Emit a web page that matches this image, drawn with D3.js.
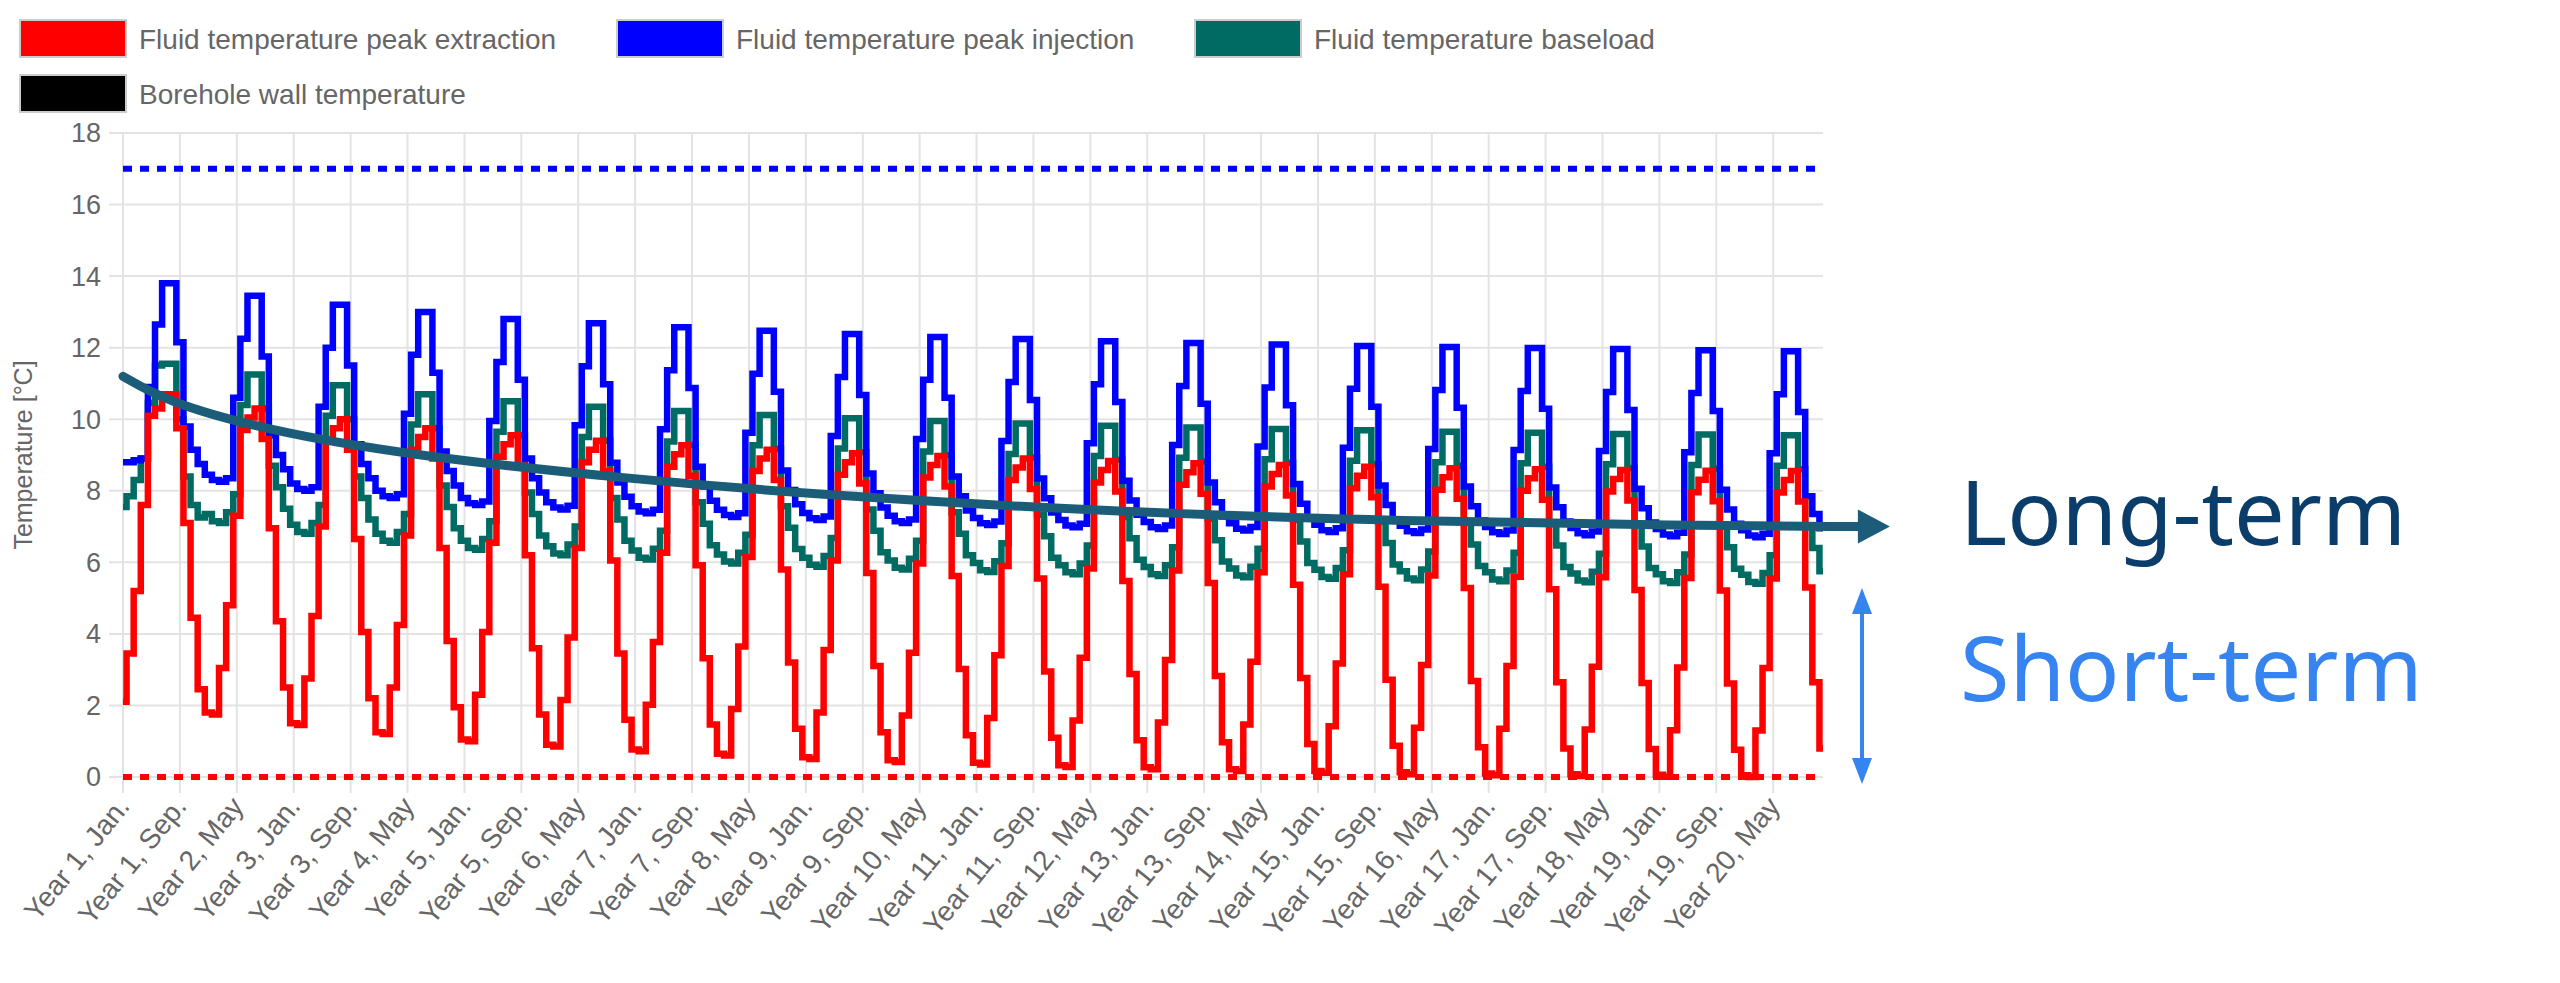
<!DOCTYPE html>
<html>
<head>
<meta charset="utf-8">
<script src="https://cdn.jsdelivr.net/npm/d3@7"></script>
<style>
  body { margin: 0; background: #fff; }
  svg { display: block; font-family: "Liberation Sans", Arial, sans-serif; }
</style>
</head>
<body>
<svg id="chart" width="2560" height="983"></svg>
<script>
// monthly values, one row per year (Jan..Dec)
const peakExtraction = [
  [2.1,3.45,5.2,7.6,10.1,10.3,10.7,10.7,9.75,7.1,4.45,2.45],
  [1.8,1.75,3.05,4.8,7.3,9.7,10.05,10.3,9.45,6.95,4.35,2.5],
  [1.5,1.45,2.75,4.5,7.0,9.4,9.75,10.0,9.15,6.65,4.05,2.2],
  [1.25,1.2,2.5,4.25,6.75,9.15,9.5,9.75,8.9,6.4,3.8,1.95],
  [1.05,1.0,2.3,4.05,6.55,8.95,9.3,9.55,8.7,6.2,3.6,1.75],
  [0.9,0.85,2.15,3.9,6.4,8.8,9.15,9.4,8.55,6.05,3.45,1.6],
  [0.77,0.72,2.02,3.77,6.27,8.67,9.02,9.27,8.42,5.92,3.32,1.47],
  [0.65,0.6,1.9,3.65,6.15,8.55,8.9,9.15,8.3,5.8,3.2,1.35],
  [0.55,0.5,1.8,3.55,6.05,8.45,8.8,9.05,8.2,5.7,3.1,1.25],
  [0.47,0.42,1.72,3.47,5.97,8.37,8.72,8.97,8.12,5.62,3.02,1.17],
  [0.4,0.35,1.65,3.4,5.9,8.3,8.65,8.9,8.05,5.55,2.95,1.1],
  [0.33,0.28,1.58,3.33,5.83,8.23,8.58,8.83,7.98,5.48,2.88,1.03],
  [0.27,0.22,1.52,3.27,5.77,8.17,8.52,8.77,7.92,5.42,2.82,0.97],
  [0.22,0.17,1.47,3.22,5.72,8.12,8.47,8.72,7.87,5.37,2.77,0.92],
  [0.17,0.12,1.42,3.17,5.67,8.07,8.42,8.67,7.82,5.32,2.72,0.87],
  [0.13,0.08,1.38,3.13,5.63,8.03,8.38,8.63,7.78,5.28,2.68,0.83],
  [0.1,0.05,1.35,3.1,5.6,8.0,8.35,8.6,7.75,5.25,2.65,0.8],
  [0.08,0.03,1.33,3.08,5.58,7.98,8.33,8.58,7.73,5.23,2.63,0.78],
  [0.06,0.01,1.31,3.06,5.56,7.96,8.31,8.56,7.71,5.21,2.61,0.76],
  [0.05,0,1.3,3.05,5.55,7.95,8.3,8.55,7.7,5.3,2.65,0.8]
];
const peakInjection = [
  [8.8,8.8,8.85,8.9,10.9,12.65,13.8,13.8,12.15,9.8,9.15,8.75],
  [8.45,8.3,8.25,8.35,10.6,12.25,13.45,13.45,11.75,9.55,9.0,8.6],
  [8.2,8.05,8.0,8.1,10.35,12.0,13.2,13.2,11.5,9.3,8.75,8.35],
  [8.0,7.85,7.8,7.9,10.15,11.8,13.0,13.0,11.3,9.1,8.55,8.15],
  [7.8,7.65,7.6,7.7,9.95,11.6,12.8,12.8,11.1,8.9,8.35,7.95],
  [7.68,7.53,7.48,7.58,9.83,11.48,12.68,12.68,10.98,8.78,8.23,7.83],
  [7.57,7.42,7.37,7.47,9.72,11.37,12.57,12.57,10.87,8.67,8.12,7.72],
  [7.47,7.32,7.27,7.37,9.62,11.27,12.47,12.47,10.77,8.57,8.02,7.62],
  [7.38,7.23,7.18,7.28,9.53,11.18,12.38,12.38,10.68,8.48,7.93,7.53],
  [7.3,7.15,7.1,7.2,9.45,11.1,12.3,12.3,10.6,8.4,7.85,7.45],
  [7.24,7.09,7.04,7.14,9.39,11.04,12.24,12.24,10.54,8.34,7.79,7.39],
  [7.18,7.03,6.98,7.08,9.33,10.98,12.18,12.18,10.48,8.28,7.73,7.33],
  [7.13,6.98,6.93,7.03,9.28,10.93,12.13,12.13,10.43,8.23,7.68,7.28],
  [7.09,6.94,6.89,6.99,9.24,10.89,12.09,12.09,10.39,8.19,7.64,7.24],
  [7.05,6.9,6.85,6.95,9.2,10.85,12.05,12.05,10.35,8.15,7.6,7.2],
  [7.02,6.87,6.82,6.92,9.17,10.82,12.02,12.02,10.32,8.12,7.57,7.17],
  [6.99,6.84,6.79,6.89,9.14,10.79,11.99,11.99,10.29,8.09,7.54,7.14],
  [6.96,6.81,6.76,6.86,9.11,10.76,11.96,11.96,10.26,8.06,7.51,7.11],
  [6.93,6.78,6.73,6.83,9.08,10.73,11.93,11.93,10.23,8.03,7.48,7.08],
  [6.9,6.75,6.7,6.8,9.05,10.7,11.9,11.9,10.2,7.85,7.35,6.95]
];
const baseload = [
  [7.55,7.85,8.3,8.9,10.45,11.5,11.55,11.55,10.0,8.4,7.6,7.25],
  [7.35,7.15,7.1,7.4,7.9,10.4,11.25,11.25,10.3,8.7,8.1,7.5],
  [7.05,6.85,6.8,7.1,7.6,10.1,10.95,10.95,10.0,8.4,7.8,7.2],
  [6.8,6.6,6.55,6.85,7.35,9.85,10.7,10.7,9.75,8.15,7.55,6.95],
  [6.6,6.4,6.35,6.65,7.15,9.65,10.5,10.5,9.55,7.95,7.35,6.75],
  [6.45,6.25,6.2,6.5,7.0,9.5,10.35,10.35,9.4,7.8,7.2,6.6],
  [6.33,6.13,6.08,6.38,6.88,9.38,10.23,10.23,9.28,7.68,7.08,6.48],
  [6.22,6.02,5.97,6.27,6.77,9.27,10.12,10.12,9.17,7.57,6.97,6.37],
  [6.13,5.93,5.88,6.18,6.68,9.18,10.03,10.03,9.08,7.48,6.88,6.28],
  [6.05,5.85,5.8,6.1,6.6,9.1,9.95,9.95,9.0,7.4,6.8,6.2],
  [5.98,5.78,5.73,6.03,6.53,9.03,9.88,9.88,8.93,7.33,6.73,6.13],
  [5.92,5.72,5.67,5.97,6.47,8.97,9.82,9.82,8.87,7.27,6.67,6.07],
  [5.87,5.67,5.62,5.92,6.42,8.92,9.77,9.77,8.82,7.22,6.62,6.02],
  [5.83,5.63,5.58,5.88,6.38,8.88,9.73,9.73,8.78,7.18,6.58,5.98],
  [5.79,5.59,5.54,5.84,6.34,8.84,9.69,9.69,8.74,7.14,6.54,5.94],
  [5.75,5.55,5.5,5.8,6.3,8.8,9.65,9.65,8.7,7.1,6.5,5.9],
  [5.72,5.52,5.47,5.77,6.27,8.77,9.62,9.62,8.67,7.07,6.47,5.87],
  [5.69,5.49,5.44,5.74,6.24,8.74,9.59,9.59,8.64,7.04,6.44,5.84],
  [5.67,5.47,5.42,5.72,6.22,8.72,9.57,9.57,8.62,7.02,6.42,5.82],
  [5.65,5.45,5.4,5.7,6.2,8.7,9.55,9.55,8.6,7.0,6.4,5.75]
];
const monthNames = ["Jan.","Feb.","Mar.","Apr.","May","Jun.","Jul.","Aug.","Sep.","Oct.","Nov.","Dec."];
const maxLimit = 17;
const minLimit = 0;
// hand-drawn long-term trend arrow: [month index, temperature]
const trendPoints = [[0,11.2],[6,10.5],[20,9.7],[40,9.0],[70,8.35],[100,7.85],[140,7.4],[180,7.15],[220,7.03],[247,7.0]];

const legendItems = [
  { label: "Fluid temperature peak extraction", color: "#ff0000", x: 20, y: 20 },
  { label: "Fluid temperature peak injection", color: "#0000ff", x: 617, y: 20 },
  { label: "Fluid temperature baseload", color: "#006b63", x: 1195, y: 20 },
  { label: "Borehole wall temperature", color: "#000000", x: 20, y: 75 }
];

const svg = d3.select("#chart");
const nMonths = 240;
const x = d3.scaleLinear().domain([0, nMonths - 1]).range([123, 1823]);
const y = d3.scaleLinear().domain([0, 18]).range([777, 133]);

// grid
const tickIdx = d3.range(0, nMonths, 8);
svg.append("g").selectAll("line").data(tickIdx).join("line")
  .attr("x1", d => x(d)).attr("x2", d => x(d))
  .attr("y1", y(18)).attr("y2", y(0) + 16)
  .attr("stroke", "#e3e3e3").attr("stroke-width", 2);
svg.append("g").selectAll("line").data(d3.range(0, 19, 2)).join("line")
  .attr("x1", x(0) - 14).attr("x2", x(nMonths - 1))
  .attr("y1", d => y(d)).attr("y2", d => y(d))
  .attr("stroke", "#e3e3e3").attr("stroke-width", 2);

// y tick labels
svg.append("g").selectAll("text").data(d3.range(0, 19, 2)).join("text")
  .attr("x", x(0) - 22).attr("y", d => y(d)).attr("dy", "0.35em")
  .attr("text-anchor", "end").attr("font-size", 27).attr("fill", "#666")
  .text(d => d);

svg.append("text")
  .attr("transform", `translate(32,${(y(0) + y(18)) / 2}) rotate(-90)`)
  .attr("text-anchor", "middle").attr("font-size", 25).attr("fill", "#666")
  .text("Temperature [°C]");

// x tick labels
svg.append("g").selectAll("text").data(tickIdx).join("text")
  .attr("transform", d => `translate(${x(d) + 8},${y(0) + 30}) rotate(-51)`)
  .attr("text-anchor", "end").attr("font-size", 28).attr("fill", "#666")
  .text(d => `Year ${Math.floor(d / 12) + 1}, ${monthNames[d % 12]}`);

// limits
[[maxLimit, "#0000ff"], [minLimit, "#ff0000"]].forEach(([v, c]) => {
  svg.append("line")
    .attr("x1", x(0)).attr("x2", x(nMonths - 1))
    .attr("y1", y(v)).attr("y2", y(v))
    .attr("stroke", c).attr("stroke-width", 6).attr("stroke-dasharray", "9,8");
});

svg.append("defs").append("clipPath").attr("id", "plot")
  .append("rect").attr("x", x(0) - 4).attr("y", y(18)).attr("width", x(nMonths - 1) - x(0) + 8).attr("height", y(0) - y(18) + 4);

const line = d3.line().x((d, i) => x(i)).y(d => y(d)).curve(d3.curveStep);
[[baseload, "#006b63"], [peakInjection, "#0000ff"], [peakExtraction, "#ff0000"]].forEach(([rows, c]) => {
  svg.append("path").datum(rows.flat())
    .attr("clip-path", "url(#plot)")
    .attr("d", line).attr("fill", "none")
    .attr("stroke", c).attr("stroke-width", 6.5).attr("stroke-linejoin", "miter");
});

// legend
const lg = svg.append("g").selectAll("g").data(legendItems).join("g")
  .attr("transform", d => `translate(${d.x},${d.y})`);
lg.append("rect").attr("width", 106).attr("height", 37)
  .attr("fill", d => d.color).attr("stroke", "#ccc").attr("stroke-width", 2);
lg.append("text").attr("x", 119).attr("y", 19).attr("dy", "0.35em")
  .attr("font-size", 28).attr("fill", "#666").text(d => d.label);

// annotations
const trendColor = "#1b5d78";
const trend = d3.line().x(d => x(d[0])).y(d => y(d[1])).curve(d3.curveBasis);
const last = trendPoints[trendPoints.length - 1];
svg.append("path").datum(trendPoints.slice(0, -1).concat([[last[0] - 3, last[1]]]))
  .attr("d", trend).attr("fill", "none").attr("stroke", trendColor)
  .attr("stroke-width", 9).attr("stroke-linecap", "round");
const tipX = x(last[0]), tipY = y(last[1]);
svg.append("path")
  .attr("d", `M${tipX + 10},${tipY} L${tipX - 22},${tipY - 17} L${tipX - 22},${tipY + 17} Z`)
  .attr("fill", trendColor);

svg.append("text").attr("x", 1960).attr("y", 545)
  .attr("font-family", "Noto Sans").attr("font-size", 90).attr("fill", "#0b3d6b")
  .text("Long-term");
svg.append("text").attr("x", 1960).attr("y", 701)
  .attr("font-family", "Noto Sans").attr("font-size", 90).attr("fill", "#3584f0")
  .text("Short-term");

const ax = 1862, ay1 = 588, ay2 = 784;
svg.append("line").attr("x1", ax).attr("x2", ax).attr("y1", ay1 + 20).attr("y2", ay2 - 20)
  .attr("stroke", "#3584f0").attr("stroke-width", 4);
svg.append("path").attr("d", `M${ax},${ay1} L${ax - 10},${ay1 + 26} L${ax + 10},${ay1 + 26} Z`).attr("fill", "#3584f0");
svg.append("path").attr("d", `M${ax},${ay2} L${ax - 10},${ay2 - 26} L${ax + 10},${ay2 - 26} Z`).attr("fill", "#3584f0");
</script>
</body>
</html>
